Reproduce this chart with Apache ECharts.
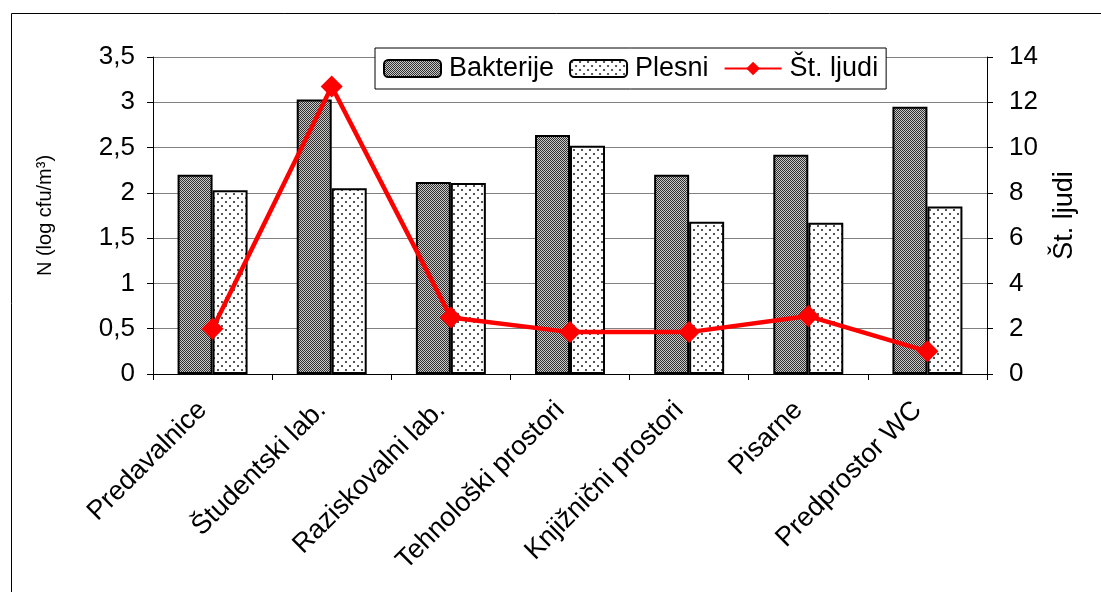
<!DOCTYPE html>
<html>
<head>
<meta charset="utf-8">
<script src="https://cdn.jsdelivr.net/npm/echarts@6/dist/echarts.min.js"></script>
<style>
    html, body { margin: 0; padding: 0; background: #fff; }
    #chart { width: 1101px; height: 592px; }
</style>
</head>
<body>
<div id="chart"></div>
<script>
const categories = ['Predavalnice', 'Študentski lab.', 'Raziskovalni lab.', 'Tehnološki prostori', 'Knjižnični prostori', 'Pisarne', 'Predprostor WC'];
const bakterije = [2.2, 3.03, 2.12, 2.64, 2.2, 2.42, 2.95];
const plesni = [2.03, 2.05, 2.11, 2.52, 1.68, 1.67, 1.85];
const ljudi = [2, 12.7, 2.5, 1.85, 1.85, 2.56, 1];

// 图案填充
const makePattern = (size, draw) => {
    const c = document.createElement('canvas');
    c.width = size;
    c.height = size;
    draw(c.getContext('2d'));
    return { image: c, repeat: 'repeat' };
};
const checkFill = makePattern(2, (ctx) => {
    ctx.fillStyle = '#c8c8c8';
    ctx.fillRect(0, 0, 2, 2);
    ctx.fillStyle = '#303030';
    ctx.fillRect(0, 0, 1, 1);
    ctx.fillRect(1, 1, 1, 1);
});
const dotFill = makePattern(8, (ctx) => {
    ctx.fillStyle = '#fff';
    ctx.fillRect(0, 0, 8, 8);
    ctx.fillStyle = '#555';
    ctx.fillRect(1, 1, 2, 2);
    ctx.fillRect(5, 5, 2, 2);
});

const font = 'Liberation Sans, Arial, sans-serif';
const chart = echarts.init(document.getElementById('chart'));
chart.setOption({
    animation: false,
    backgroundColor: '#fff',
    textStyle: { fontFamily: font, color: '#000' },
    graphic: [{
        type: 'rect',
        shape: { x: 11.5, y: 13.5, width: 1100, height: 600 },
        style: { fill: null, stroke: '#000', lineWidth: 1 },
        silent: true,
        z: -10
    }],
    legend: {
        left: 375,
        top: 48,
        padding: [7, 8, 7, 8],
        itemGap: 15,
        itemWidth: 57,
        itemHeight: 17,
        backgroundColor: '#fff',
        borderColor: '#000',
        borderWidth: 1,
        textStyle: { fontSize: 27, fontFamily: font, color: '#000', padding: [2, 0, 0, 3] },
        data: ['Bakterije', 'Plesni', 'Št. ljudi'],
        z: 10
    },
    grid: {
        left: 153,
        right: 114,
        top: 57,
        bottom: 218,
        outerBoundsMode: 'none'
    },
    xAxis: {
        type: 'category',
        data: categories,
        axisLine: { lineStyle: { color: '#000', width: 1 } },
        axisTick: { show: true, length: 6, lineStyle: { color: '#000' } },
        axisLabel: {
            rotate: 45,
            interval: 0,
            margin: 22,
            padding: [0, 14, 0, 0],
            fontSize: 27,
            fontFamily: font,
            color: '#000'
        }
    },
    yAxis: [
        {
            type: 'value',
            min: 0,
            max: 3.5,
            interval: 0.5,
            name: 'N (log cfu/m³)',
            nameLocation: 'middle',
            nameRotate: 90,
            nameGap: 98,
            nameTextStyle: { fontSize: 20, fontFamily: font, color: '#000' },
            axisLine: { show: true, lineStyle: { color: '#000' } },
            axisTick: { show: true, length: 6, lineStyle: { color: '#000' } },
            axisLabel: {
                fontSize: 26,
                margin: 18,
                color: '#000',
                formatter: (v) => String(v).replace('.', ',')
            },
            splitLine: { show: true, lineStyle: { color: '#808080', width: 1 } }
        },
        {
            type: 'value',
            min: 0,
            max: 14,
            interval: 2,
            position: 'right',
            name: 'Št. ljudi',
            nameLocation: 'middle',
            nameRotate: 90,
            nameGap: 64,
            nameTextStyle: { fontSize: 27, fontFamily: font, color: '#000' },
            axisLine: { show: true, lineStyle: { color: '#000' } },
            axisTick: { show: true, length: 6, lineStyle: { color: '#000' } },
            axisLabel: { fontSize: 26, margin: 22, color: '#000' },
            splitLine: { show: false }
        }
    ],
    series: [
        {
            name: 'Bakterije',
            type: 'bar',
            data: bakterije,
            barWidth: 35,
            barGap: '0%',
            itemStyle: { color: checkFill, borderColor: '#000', borderWidth: 2 }
        },
        {
            name: 'Plesni',
            type: 'bar',
            data: plesni,
            barWidth: 35,
            itemStyle: { color: dotFill, borderColor: '#000', borderWidth: 2 }
        },
        {
            name: 'Št. ljudi',
            type: 'line',
            yAxisIndex: 1,
            data: ljudi,
            symbol: 'diamond',
            symbolSize: 22,
            itemStyle: { color: '#ff0000' },
            lineStyle: { color: '#ff0000', width: 4.5 },
            z: 5
        }
    ]
});
</script>
</body>
</html>
